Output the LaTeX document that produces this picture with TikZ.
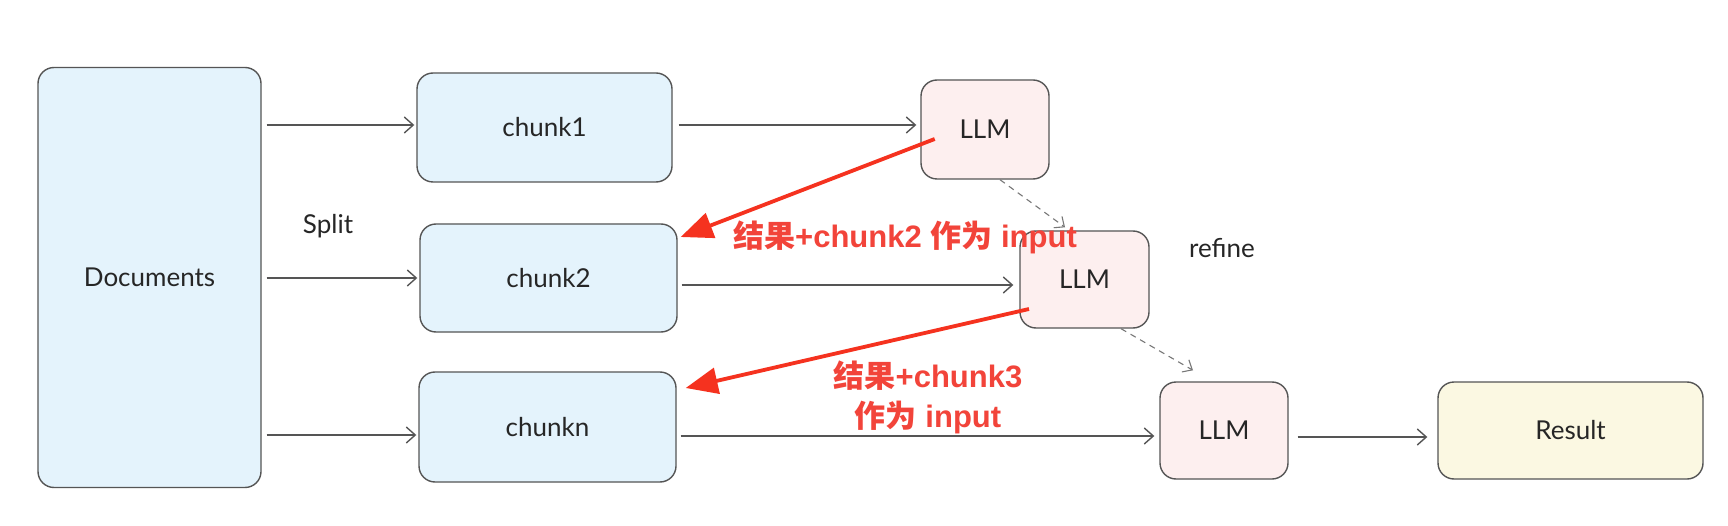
\documentclass[tikz,border=0pt]{standalone}
\usepackage{fontspec}
\usetikzlibrary{arrows.meta}
\newfontfamily\handfont{Lato}
\newfontfamily\cjkb{Noto Sans CJK SC Bold}
\newfontfamily\lsans{Liberation Sans}
\definecolor{edge}{HTML}{555555}
\definecolor{blueF}{HTML}{E4F3FC}
\definecolor{pinkF}{HTML}{FDEFEF}
\definecolor{yelF}{HTML}{FBF8E2}
\definecolor{redA}{HTML}{F5321F}
\definecolor{redT}{HTML}{F2443A}
\tikzset{
  box/.style={draw=edge, line width=1.4pt, rounded corners=16pt, inner sep=0pt, font=\handfont\fontsize{26}{30}\selectfont, text=black!85},
  bluebox/.style={box, fill=blueF},
  pinkbox/.style={box, fill=pinkF},
  yelbox/.style={box, fill=yelF},
  arr/.style={draw=edge, line width=1.4pt, -{Straight Barb[length=9pt,width=16pt]}},
  darr/.style={draw=edge!80, line width=1.1pt, dash pattern=on 6pt off 5pt, -{Straight Barb[length=8pt,width=14pt]}},
  redarr/.style={draw=redA, line width=3.8pt, -{Triangle[length=32pt,width=26pt]}},
  redtxt/.style={text=redT, font=\lsans\bfseries\fontsize{31}{40}\selectfont},
  lbl/.style={font=\handfont\fontsize{26}{30}\selectfont, text=black!85}
}
\begin{document}
\begin{tikzpicture}[x=1pt,y=-1pt]
\useasboundingbox (0,0) rectangle (1728,526);
\fill[white] (0,0) rectangle (1728,526);
% nodes
\node[bluebox, minimum width=223pt, minimum height=420pt] (docs) at (149.5,277.5) {Documents};
\node[bluebox, minimum width=255pt, minimum height=109pt] (c1) at (544.5,127.5) {chunk1};
\node[bluebox, minimum width=257pt, minimum height=108pt] (c2) at (548.5,278) {chunk2};
\node[bluebox, minimum width=257pt, minimum height=110pt] (cn) at (547.5,427) {chunkn};
\node[pinkbox, minimum width=128pt, minimum height=99pt] (L1) at (985,129.5) {LLM};
\node[pinkbox, minimum width=129pt, minimum height=97pt] (L2) at (1084.5,279.5) {LLM};
\node[pinkbox, minimum width=128pt, minimum height=97pt] (L3) at (1224,430.5) {LLM};
\node[yelbox, minimum width=265pt, minimum height=97pt] (R) at (1570.5,430.5) {Result};
\node[lbl] (split) at (328,226) {Split};
\node[lbl] (refine) at (1222,248) {refine};
% gray arrows
\draw[arr] ([shift={(5,-2.5)}]docs.east |- c1.west) -- ([shift={(-2,-2.5)}]c1.west);
\draw[arr] ([xshift=5pt]docs.east |- c2.west) -- ([xshift=-2pt]c2.west);
\draw[arr] ([shift={(5,8)}]docs.east |- cn.west) -- ([shift={(-2,8)}]cn.west);
\draw[arr] ([shift={(6,-2.5)}]c1.east) -- ([shift={(-4,-2.5)}]c1.east -| L1.west);
\draw[arr] ([shift={(4,7)}]c2.east) -- ([shift={(-6,7)}]c2.east -| L2.west);
\draw[arr] ([shift={(4,9)}]cn.east) -- ([shift={(-5,9)}]cn.east -| L3.west);
\draw[arr] ([shift={(9,6.5)}]L3.east) -- ([shift={(-10,6.5)}]R.west);
% dashed
\draw[darr] ([shift={(15,0)}]L1.south) -- ([shift={(-19.5,-3)}]L2.north);
\draw[darr] ([shift={(36.5,0)}]L2.south) -- ([shift={(-31,-11)}]L3.north);
% red arrows
\draw[redarr] ([shift={(-115,9.5)}]L1.east) -- ([shift={(3,-41)}]c2.east);
\draw[redarr] ([shift={(-55.5,29.5)}]L2.center) -- ([shift={(9,-39)}]cn.east);
% red labels
\node[redtxt, anchor=west, inner sep=0pt] (t1) at (733,237) {{\cjkb 结果}+chunk2 {\cjkb 作为} input};
\node[redtxt, align=center, inner sep=0pt] (t2) at (928,397) {{\cjkb 结果}+chunk3\\{\cjkb 作为} input};
\end{tikzpicture}
\end{document}
